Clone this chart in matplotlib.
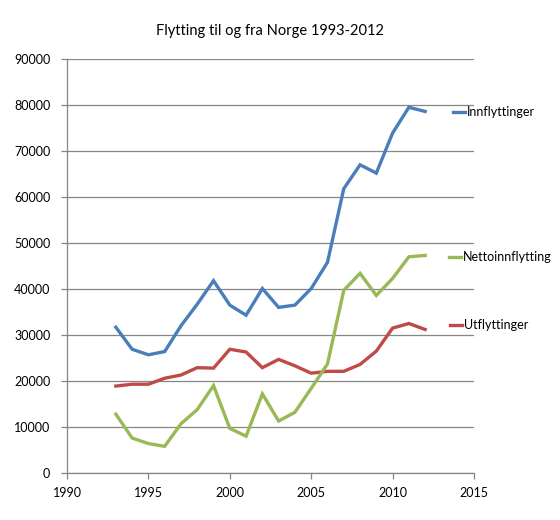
import matplotlib
matplotlib.use("Agg")
import matplotlib.pyplot as plt

years = list(range(1993, 2013))
innflyttinger = [31700, 26900, 25700, 26400, 32000, 36700, 41800, 36500, 34300, 40100,
                 36000, 36500, 40100, 45800, 61800, 67000, 65200, 73900, 79500, 78600]
utflyttinger = [18900, 19300, 19300, 20600, 21300, 22900, 22800, 26900, 26300, 22900,
                24700, 23300, 21700, 22100, 22100, 23600, 26500, 31500, 32500, 31200]
netto = [12800, 7600, 6400, 5800, 10700, 13800, 19000, 9700, 8000, 17200,
         11300, 13200, 18400, 23700, 39700, 43400, 38600, 42300, 47000, 47300]

series = [
    ("Innflyttinger", innflyttinger, "#4A7EBB"),
    ("Utflyttinger", utflyttinger, "#BE4B48"),
    ("Nettoinnflytting", netto, "#98B954"),
]
title = "Flytting til og fra Norge 1993-2012"
xticks = [1990, 1995, 2000, 2005, 2010, 2015]
yticks = list(range(0, 90001, 10000))

plt.rcParams['font.family'] = ['Lato', 'DejaVu Sans']

fig = plt.figure(figsize=(5.6, 5.2), dpi=100)
ax = fig.add_axes([67/560, 1-473/520, (474-67)/560, (473-59)/520])

for name, vals, col in series:
    ax.plot(years, vals, color=col, lw=2.4, solid_joinstyle='miter')

ax.set_xlim(1990, 2015)
ax.set_ylim(0, 90000)
ax.set_xticks(xticks)
ax.set_yticks(yticks)
ax.set_xticklabels([str(t) for t in xticks])
ax.set_yticklabels([str(t) for t in yticks])
ax.grid(axis='y', color='#868686', lw=0.9)
ax.set_axisbelow(True)
for s in ['top', 'right']:
    ax.spines[s].set_visible(False)
for s in ['left', 'bottom']:
    ax.spines[s].set_color('#868686')
    ax.spines[s].set_linewidth(0.9)
ax.tick_params(axis='both', colors='#868686', length=4, width=0.9, labelcolor='black', labelsize=9)
ax.tick_params(axis='y', pad=8)
ax.tick_params(axis='x', pad=6)

ax.set_title(title, fontsize=10.5, pad=17)

legend_pos = {"Innflyttinger": (453, 112), "Nettoinnflytting": (449, 257), "Utflyttinger": (450, 325)}
for name, vals, col in series:
    px, py = legend_pos[name]
    fx, fy = px/560, 1-py/520
    fig.add_artist(plt.Line2D([fx, fx+12/560], [fy, fy], color=col, lw=2.4, transform=fig.transFigure))
    fig.text(fx+14/560, fy, name, fontsize=9, va='center', ha='left')

fig.savefig("out.png", dpi=100)
